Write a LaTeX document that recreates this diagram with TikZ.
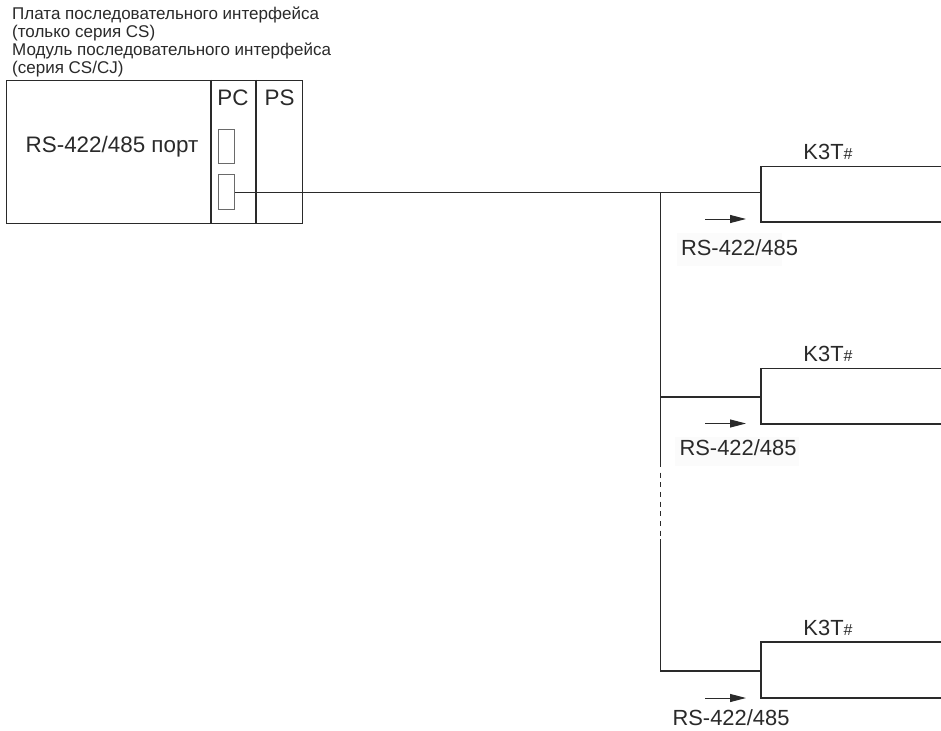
\documentclass[tikz,border=0pt]{standalone}
\usepackage{fontspec}
\setmainfont{Liberation Sans}
\usetikzlibrary{arrows.meta}
\definecolor{ink}{HTML}{2A2A2A}
\tikzset{
  x=1pt,y=-1pt,
  box/.style={draw=ink,line width=1.2pt},
  port/.style={draw=ink!70,line width=0.7pt,rectangle,minimum width=16pt,minimum height=34pt,inner sep=0pt},
  wire/.style={draw=ink,line width=1.2pt},
  flow/.style={draw=ink,line width=1pt,-{Triangle[length=16pt,width=8pt]}},
  small/.style={font=\fontsize{17}{17.8}\selectfont,text=ink,inner sep=0pt,align=left},
  mid/.style={font=\fontsize{22.4}{26}\selectfont,text=ink,inner sep=0pt},
  slot/.style={font=\fontsize{22.4}{26}\selectfont,text=ink,inner sep=0pt},
  tag/.style={font=\fontsize{21.9}{26}\selectfont,text=ink,inner sep=0pt},
}
\newcommand{\kname}{K3T{\fontsize{16}{18}\selectfont\#}}
\begin{document}
\begin{tikzpicture}
\useasboundingbox (0,0) rectangle (941,730);
\fill[white] (0,0) rectangle (941,730);
% header
\node[small,anchor=north west] (hdr) at (12,7) {Плата последовательного интерфейса\\(только серия CS)\\Модуль последовательного интерфейса\\(серия CS/CJ)};
% unit
\node[box,rectangle,minimum width=296pt,minimum height=143pt,inner sep=0pt,anchor=north west] (unit) at (6,80) {};
\coordinate (pcT) at (211,80); \coordinate (pcB) at (211,223);
\coordinate (psT) at (256,80); \coordinate (psB) at (256,223);
\draw[box] (pcT) -- (pcB);
\draw[box] (psT) -- (psB);
\node[mid] (lbl) at (112,147) {RS-422/485 порт};
\node[slot] (pc) at (233,98) {PC};
\node[slot] (ps) at (279.5,98) {PS};
\node[port] (p1) at (226.5,146) {};
\node[port,minimum height=35pt] (p2) at (226.5,191.5) {};
% devices
\foreach \n/\t/\b in {a/166.5/222,b/368.5/424,c/642/698}{
  \draw[box] (941,\t) -- (761,\t) -- (761,\b) -- (941,\b);
}
\coordinate (da) at (761,192.5);
\coordinate (db) at (761,397);
\coordinate (dc) at (761,671);
\coordinate (ja) at (660.5,192.5);
\coordinate (jb) at (660.5,397);
\coordinate (jc) at (660.5,671);
\coordinate (ds) at (660.5,466.5);
\coordinate (dd) at (660.5,472.5);
\coordinate (df) at (660.5,535.5);
\coordinate (de) at (660.5,539);
% wires
\draw[wire] (p2.east |- da) -- (da);
\draw[wire] (ja) -- (jb) -- (ds);
\draw[wire,dash pattern=on 5pt off 4.7pt] (dd) -- (df);
\draw[wire] (de) -- (jc) -- (dc);
\draw[wire] (jb) -- (db);
% arrows
\foreach \n/\y in {a/219,b/423.5,c/698}{
  \coordinate (s\n) at (705,\y);
  \coordinate (e\n) at (746,\y);
  \draw[flow] (s\n) -- (e\n);
}
% labels
\fill[black!1.5] (677,233) rectangle (782,266);
\fill[black!1.5] (675,437) rectangle (799,466);
\node[tag] (ta) at (739.5,248) {RS-422/485};
\node[tag] (tb) at (738,447.5) {RS-422/485};
\node[tag] (tc) at (731,718) {RS-422/485};
\node[tag] (ka) at (828,152) {\kname};
\node[tag] (kb) at (828,354) {\kname};
\node[tag] (kc) at (828,628) {\kname};
\end{tikzpicture}
\end{document}
